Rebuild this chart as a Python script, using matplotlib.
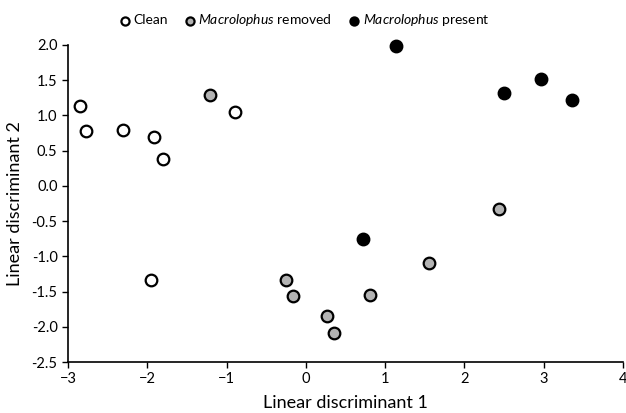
import matplotlib

matplotlib.use("Agg")
import matplotlib.pyplot as plt

# LD scores
clean_x = [-2.85, -2.77, -2.31, -1.91, -1.80, -0.89, -1.95]
clean_y = [1.13, 0.78, 0.79, 0.69, 0.38, 1.05, -1.34]
removed_x = [-1.21, -0.25, -0.16, 0.27, 0.36, 0.81, 1.55, 2.43]
removed_y = [1.29, -1.33, -1.56, -1.85, -2.09, -1.55, -1.10, -0.33]
present_x = [1.14, 2.50, 2.97, 3.36, 0.72]
present_y = [1.99, 1.32, 1.52, 1.22, -0.76]

x_ticks = [-3, -2, -1, 0, 1, 2, 3, 4]
y_ticks = [-2.5, -2.0, -1.5, -1.0, -0.5, 0.0, 0.5, 1.0, 1.5, 2.0]

plt.rcParams["font.family"] = ["Lato", "DejaVu Sans"]
plt.rcParams["mathtext.fontset"] = "custom"
plt.rcParams["mathtext.it"] = "Lato:italic"
plt.rcParams["mathtext.rm"] = "Lato"

fig = plt.figure(figsize=(6.26, 4.13), dpi=100)
ax = fig.add_axes([68 / 626, 1 - 362 / 413, 555 / 626, 317 / 413])

style = dict(s=70, linewidths=1.6, edgecolors="black", zorder=3, clip_on=False)
ax.scatter(clean_x, clean_y, facecolors="white", label="Clean", **style)
ax.scatter(removed_x, removed_y, facecolors="#b3b3b3",
           label=r"$\it{Macrolophus}$ removed", **style)
ax.scatter(present_x, present_y, facecolors="black",
           label=r"$\it{Macrolophus}$ present", **style)

ax.set_xlim(-3, 4)
ax.set_ylim(-2.5, 2.0)
ax.set_xticks(x_ticks)
ax.set_yticks(y_ticks)
ax.set_yticklabels([f"{v:.1f}" for v in y_ticks])
ax.tick_params(direction="out", length=4, width=1, labelsize=10.5, colors="black")
for spine in ("top", "right"):
    ax.spines[spine].set_visible(False)
for spine in ("left", "bottom"):
    ax.spines[spine].set_linewidth(1.2)

ax.set_xlabel("Linear discriminant 1", fontsize=13, labelpad=6)
ax.set_ylabel("Linear discriminant 2", fontsize=13, labelpad=6)

fig.legend(loc="upper left", bbox_to_anchor=(104 / 626, 1.0), ncol=3, frameon=False,
           fontsize=10, handletextpad=0.0, handlelength=1.2, columnspacing=1.0,
           markerscale=0.7, scatterpoints=1)

fig.savefig("out.png", facecolor="white")
